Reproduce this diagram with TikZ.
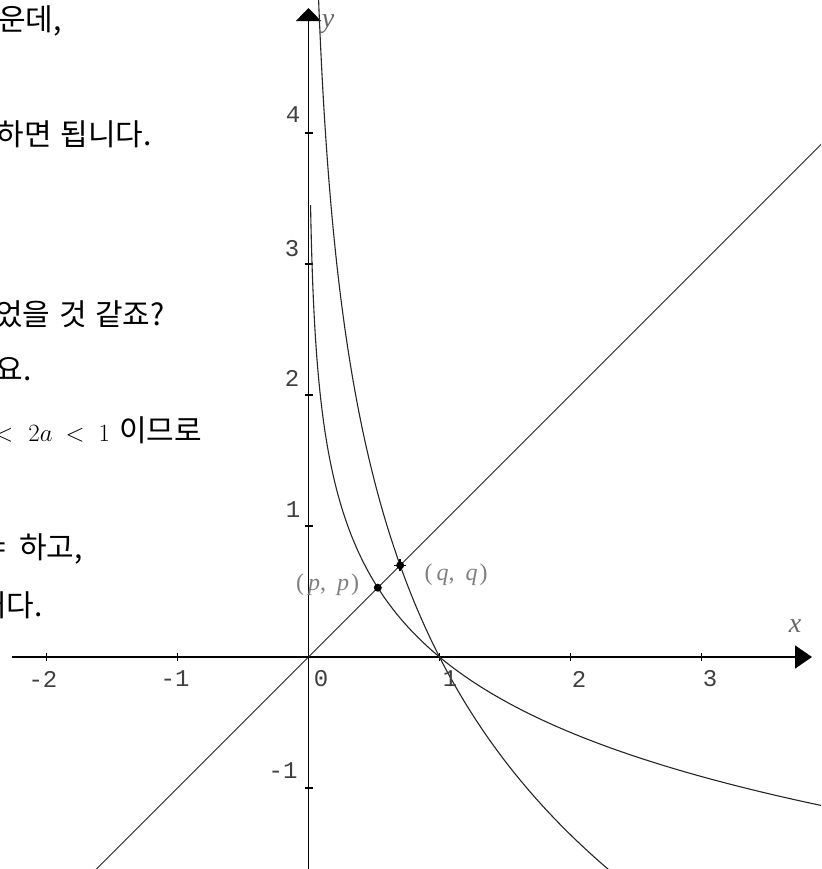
\documentclass[tikz,border=0pt]{standalone}
\usepackage{fontspec}
\newfontfamily\kr{Noto Sans CJK KR}
\newfontfamily\tickfont{Liberation Mono}
\newfontfamily\lblfont{Liberation Serif}
\usetikzlibrary{arrows.meta}
\begin{document}
\begin{tikzpicture}[x=1pt,y=-1pt,
  axis/.style={line width=1.6pt, black},
  curve/.style={line width=1.1pt, black!85},
  diag/.style={line width=1pt, black!85},
  tickmark/.style={line width=1.1pt, black},
  ticklbl/.style={font=\tickfont\fontsize{24}{24}\selectfont, text=black!75, inner sep=0pt},
  krtext/.style={font=\kr\fontsize{30}{34}\selectfont, anchor=base east, inner sep=0pt},
  ptlbl/.style={font=\lblfont\fontsize{24}{26}\selectfont, text=black!50, inner sep=0pt},
  axlbl/.style={font=\lblfont\itshape\fontsize{28}{30}\selectfont, text=black!60, inner sep=0pt},
  dot/.style={circle, fill=black, inner sep=0pt, minimum size=8pt}]
\useasboundingbox (0,0) rectangle (821,869);
\clip (0,0) rectangle (821,869);
\fill[white] (0,0) rectangle (821,869);

% left text (cut off at the left edge, as in the reference)
\node[krtext] (t1) at (62,31) {가운데,};
\node[krtext] (t2) at (152,146) {하면\hspace{2pt} 됩니다.};
\node[krtext] (t3) at (165,325) {었을\hspace{2pt} 것\hspace{2pt} 같죠?};
\node[krtext] (t4) at (32,380) {요.};
\node[krtext] (t5) at (202,441) {{\fontsize{24}{26}\selectfont$0$\hspace{6pt}$<$\hspace{15pt}$2a$\hspace{13pt}$<$\hspace{14pt}$1$}\hspace{9pt}이므로};
\node[krtext] (t6) at (83,558) {=\hspace{6pt} 하고,};
\node[krtext] (t7) at (43,616) {거다.};

\begin{scope}[shift={(308.5,657)}, x=131pt, y=131pt]
  \coordinate (xl) at (-2.2634,0);
  \coordinate (xr) at (3.8435,0);
  \coordinate (yb) at (0,-1.65);
  \coordinate (yt) at (0,4.954);
  \coordinate (dl) at (-1.8,-1.8);
  \coordinate (dr) at (4.2,4.2);
  % axes
  \draw[axis, -{Triangle[length=17pt,width=23pt]}] (xl) -- (xr);
  \draw[axis, -{Triangle[length=13pt,width=25pt]}] (yb) -- (yt);
  % ticks
  \foreach \i in {-2,-1,1,2,3} \draw[tickmark] (\i,0) ++(0,4pt) -- ++(0,-8pt);
  \foreach \j in {-1,1,2,3,4} \draw[tickmark] (0,\j) ++(-4pt,0) -- ++(8pt,0);
  % y = x
  \draw[diag] (dl) -- (dr);
  % y = log_{0.3} x
  \draw[curve] plot[domain=3.45:-1.16, samples=220, variable=\t] ({exp(-1.203973*\t)},{\t});
  % y = log_{0.6} x
  \draw[curve] plot[domain=5.05:-1.65, samples=220, variable=\t] ({exp(-0.510826*\t)},{\t});
  % intersection points
  \node[dot] (P) at (0.5289,0.5289) {};
  \node[dot] (Q) at (0.6995,0.6995) {};
  \draw[line width=1.5pt] (Q.center) ++(-6pt,0) -- ++(12pt,0);
  \draw[line width=1.5pt] (Q.center) ++(0,-6pt) -- ++(0,12pt);
\end{scope}

% tick labels
\node[ticklbl] (lxm2) at (43,679) {-2};
\node[ticklbl] (lxm1) at (175,679) {-1};
\node[ticklbl] (lx0) at (321,679) {0};
\node[ticklbl] (lx1) at (450,679) {1};
\node[ticklbl] (lx2) at (579,679) {2};
\node[ticklbl] (lx3) at (710,679) {3};
\node[ticklbl] (ly4) at (293,115) {4};
\node[ticklbl] (ly3) at (292,249) {3};
\node[ticklbl] (ly2) at (292,378) {2};
\node[ticklbl] (ly1) at (293,510) {1};
\node[ticklbl] (lym1) at (283,771) {-1};

% axis labels
\node[axlbl] (lx) at (795,626) {x};
\node[axlbl] (ly) at (328,24) {y};

% point labels
\node[ptlbl] (lp) at (327.5,585) {(\hspace{4pt}\textit{p},\hspace{11pt}\textit{p}\hspace{2pt})};
\node[ptlbl] (lq) at (456,575) {(\hspace{4pt}\textit{q},\hspace{11pt}\textit{q}\hspace{2pt})};
\end{tikzpicture}
\end{document}
